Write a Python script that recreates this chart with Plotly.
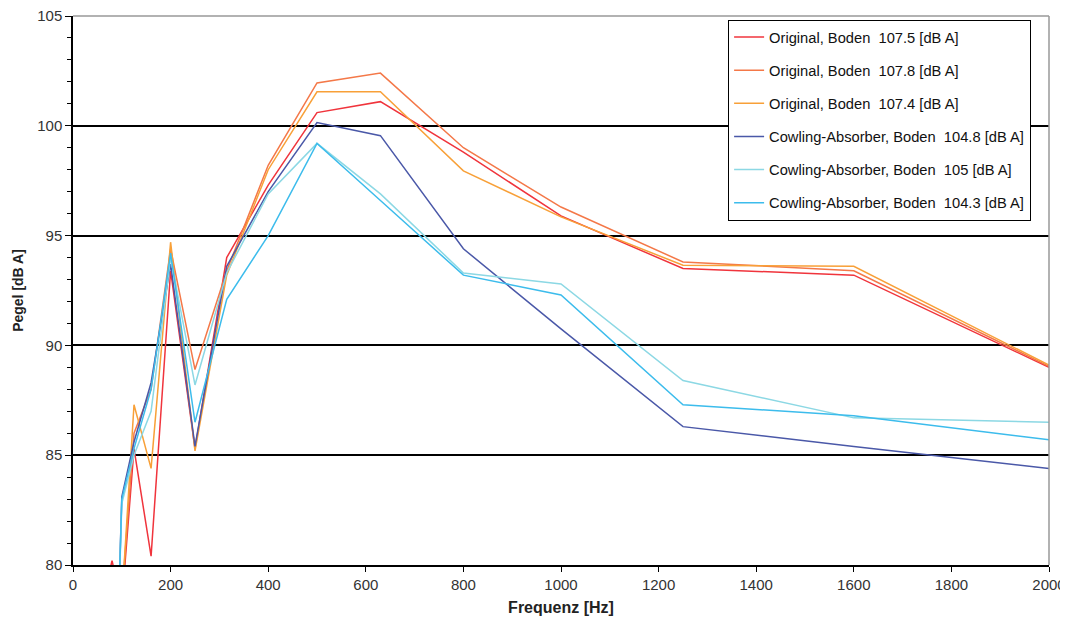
import plotly.graph_objects as go

freq = [63, 80, 100, 125, 160, 200, 250, 315, 400, 500, 630, 800, 1000, 1250, 1600, 2000]

orig_1075 = [78.5, 80.2, 78.2, 85.3, 80.4, 93.4, 85.3, 94.0, 97.3, 100.6, 101.1, 98.8, 95.9, 93.5, 93.2, 89.0]
orig_1078 = [74.0, 75.0, 78.5, 86.0, 88.0, 94.4, 88.9, 93.4, 98.2, 101.95, 102.4, 99.0, 96.3, 93.8, 93.4, 89.05]
orig_1074 = [74.0, 75.0, 78.3, 87.3, 84.4, 94.7, 85.2, 93.2, 98.0, 101.55, 101.55, 97.95, 95.85, 93.65, 93.6, 89.1]
cowl_1048 = [66.0, 68.0, 83.1, 85.6, 88.3, 93.7, 85.4, 93.6, 97.0, 100.15, 99.55, 94.4, 90.75, 86.3, 85.4, 84.4]
cowl_105 = [66.0, 68.0, 82.8, 85.0, 87.0, 94.0, 88.2, 93.3, 96.9, 99.2, 96.9, 93.3, 92.8, 88.4, 86.7, 86.5]
cowl_1043 = [66.0, 68.0, 83.0, 85.3, 88.0, 94.2, 86.5, 92.1, 95.0, 99.2, 96.6, 93.2, 92.3, 87.3, 86.8, 85.7]

names = [
    "Original, Boden  107.5 [dB A]",
    "Original, Boden  107.8 [dB A]",
    "Original, Boden  107.4 [dB A]",
    "Cowling-Absorber, Boden  104.8 [dB A]",
    "Cowling-Absorber, Boden  105 [dB A]",
    "Cowling-Absorber, Boden  104.3 [dB A]",
]
series = [orig_1075, orig_1078, orig_1074, cowl_1048, cowl_105, cowl_1043]
colors = ["#f0343c", "#f47848", "#f8a038", "#4a58a8", "#8cd8e4", "#3cbcec"]

y_ticks = [80, 85, 90, 95, 100, 105]
x_ticks = [0, 200, 400, 600, 800, 1000, 1200, 1400, 1600, 1800, 2000]

fig = go.Figure()
for i, (nm, vals, col) in enumerate(zip(names, series, colors)):
    fig.add_trace(go.Scatter(
        x=freq, y=vals, mode="lines", name=nm,
        line=dict(color=col, width=1.5),
        legendgroup=f"g{i}",
    ))

fig.update_layout(
    width=1060, height=612,
    margin=dict(l=65, r=19, t=8, b=55),
    paper_bgcolor="white", plot_bgcolor="white",
    font=dict(family="Liberation Sans, Arial, sans-serif", size=14, color="#222"),
    showlegend=True,
    legend=dict(
        x=0.671, y=0.993, xanchor="left", yanchor="top",
        bordercolor="black", borderwidth=1.2, bgcolor="white",
        font=dict(size=14.7, color="#111"),
        traceorder="grouped", tracegroupgap=11,
        itemwidth=30,
    ),
    shapes=[
        dict(type="line", xref="paper", yref="paper", x0=0, x1=1, y0=1, y1=1,
             line=dict(color="#999", width=1.5)),
        dict(type="line", xref="paper", yref="paper", x0=1, x1=1, y0=0, y1=1,
             line=dict(color="#999", width=1.5)),
    ],
)

fig.update_xaxes(
    range=[0, 2000], tickvals=x_ticks, ticktext=[str(v) for v in x_ticks],
    automargin=False,
    showgrid=False, zeroline=False,
    showline=True, linecolor="black", linewidth=1.5,
    ticks="outside", ticklen=5, tickcolor="black", tickwidth=1,
    tickfont=dict(size=15, color="#333"),
    ticklabeloverflow="allow",
    title=dict(text="<b>Frequenz [Hz]</b>", font=dict(size=16, color="#222"), standoff=10),
)
fig.update_yaxes(
    range=[80, 105], tickvals=y_ticks, ticktext=[str(v) for v in y_ticks],
    automargin=False,
    showgrid=True, gridcolor="black", gridwidth=1.5,
    zeroline=False,
    showline=True, linecolor="black", linewidth=1.5,
    ticks="outside", ticklen=6, tickcolor="black", tickwidth=1,
    minor=dict(dtick=1, ticks="outside", ticklen=4, tickcolor="black", showgrid=False),
    tickfont=dict(size=15, color="#333"),
    ticklabeloverflow="allow",
    title=dict(text="<b>Pegel [dB A]</b>", font=dict(size=14, color="#222"), standoff=10),
)

fig.write_html("out.html")
